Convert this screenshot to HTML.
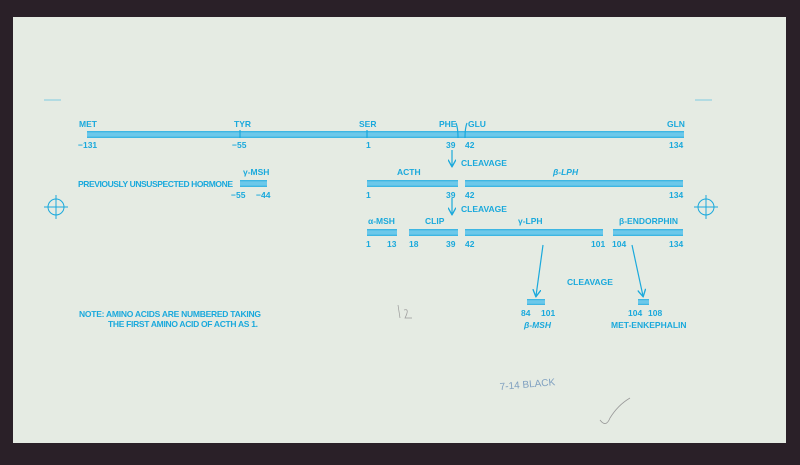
<!DOCTYPE html>
<html><head><meta charset="utf-8"><style>
html,body{margin:0;padding:0;background:#2a2028;width:800px;height:465px;overflow:hidden}
svg{display:block}
text{font-family:"Liberation Sans",sans-serif;font-weight:bold;font-size:8.5px;fill:#1aa9dc}
</style></head><body>
<svg width="800" height="465" viewBox="0 0 800 465" xmlns="http://www.w3.org/2000/svg">
<defs>
<linearGradient id="g" x1="0" y1="0" x2="0" y2="1">
<stop offset="0" stop-color="#2fb0e0"/><stop offset="0.3" stop-color="#6cc8ea"/><stop offset="0.7" stop-color="#6cc8ea"/><stop offset="1" stop-color="#2fb0e0"/>
</linearGradient>
<marker id="ah" viewBox="0 0 10 10" refX="8" refY="5" markerWidth="7" markerHeight="7" orient="auto"><path d="M0,0 L9,5 L0,10" fill="none" stroke="#1aa9dc" stroke-width="1.6"/></marker>
</defs>
<rect x="13" y="17" width="773" height="426" fill="#e5ebe3"/>
<g stroke="#7fcbe0" stroke-width="1">
<line x1="44" y1="100" x2="61" y2="100"/><line x1="695" y1="100" x2="712" y2="100"/>
</g>
<g stroke="#1aa9dc" stroke-width="1" fill="none">
<circle cx="56" cy="207" r="8"/><line x1="44" y1="207" x2="68" y2="207"/><line x1="56" y1="195" x2="56" y2="219"/>
<circle cx="706" cy="207" r="8"/><line x1="694" y1="207" x2="718" y2="207"/><line x1="706" y1="195" x2="706" y2="219"/>
</g>
<g fill="url(#g)">
<rect x="87" y="131" width="597" height="7"/>
<rect x="240" y="180" width="27" height="7"/>
<rect x="367" y="180" width="91" height="7"/>
<rect x="465" y="180" width="218" height="7"/>
<rect x="367" y="229" width="30" height="7"/>
<rect x="409" y="229" width="49" height="7"/>
<rect x="465" y="229" width="138" height="7"/>
<rect x="613" y="229" width="70" height="7"/>
<rect x="527" y="299" width="18" height="6"/>
<rect x="638" y="299" width="11" height="6"/>
</g>
<g stroke="#1aa9dc" stroke-width="1.2" fill="none">
<line x1="240" y1="130" x2="240" y2="138"/><line x1="367" y1="130" x2="367" y2="138"/>
<path d="M456,123 Q458,128 458,138"/><path d="M467,123 Q465,128 465,138"/>
<line x1="452" y1="150" x2="452" y2="166" marker-end="url(#ah)"/>
<line x1="452" y1="198" x2="452" y2="214" marker-end="url(#ah)"/>
<line x1="543" y1="245" x2="536" y2="296" marker-end="url(#ah)"/>
<line x1="632" y1="245" x2="643" y2="296" marker-end="url(#ah)"/>
</g>
<text x="79" y="127">MET</text><text x="234" y="127">TYR</text><text x="359" y="127">SER</text>
<text x="439" y="127">PHE</text><text x="468" y="127">GLU</text><text x="667" y="127">GLN</text>
<text x="78" y="148">−131</text><text x="232" y="148">−55</text><text x="366" y="148">1</text>
<text x="446" y="148">39</text><text x="465" y="148">42</text><text x="669" y="148">134</text>
<text x="461" y="166">CLEAVAGE</text>
<text x="243" y="175">γ-MSH</text>
<text x="78" y="187" textLength="155">PREVIOUSLY UNSUSPECTED HORMONE</text>
<text x="397" y="175">ACTH</text><text x="553" y="175" font-style="italic">β-LPH</text>
<text x="231" y="198">−55</text><text x="256" y="198">−44</text>
<text x="366" y="198">1</text><text x="446" y="198">39</text><text x="465" y="198">42</text><text x="669" y="198">134</text>
<text x="461" y="212">CLEAVAGE</text>
<text x="368" y="224">α-MSH</text><text x="425" y="224">CLIP</text><text x="518" y="224">γ-LPH</text><text x="619" y="224">β-ENDORPHIN</text>
<text x="366" y="247">1</text><text x="387" y="247">13</text><text x="409" y="247">18</text><text x="446" y="247">39</text>
<text x="465" y="247">42</text><text x="591" y="247">101</text><text x="612" y="247">104</text><text x="669" y="247">134</text>
<text x="567" y="285">CLEAVAGE</text>
<text x="79" y="317" textLength="182">NOTE: AMINO ACIDS ARE NUMBERED TAKING</text>
<text x="108" y="327" textLength="150">THE FIRST AMINO ACID OF ACTH AS 1.</text>
<text x="521" y="316">84</text><text x="541" y="316">101</text>
<text x="524" y="328" font-style="italic">β-MSH</text>
<text x="628" y="316">104</text><text x="648" y="316">108</text>
<text x="611" y="328">MET-ENKEPHALIN</text>
<text x="500" y="390" style="font-weight:normal;font-size:10px;fill:#7fa0c0" transform="rotate(-5 500 390)">7-14 BLACK</text>
<path d="M600,420 Q606,428 610,418 Q618,405 630,398" fill="none" stroke="#999" stroke-width="0.8"/>
<path d="M398,305 L400,318 M404,310 Q410,308 405,318 L412,318" fill="none" stroke="#999" stroke-width="0.7"/>
</svg>
</body></html>
